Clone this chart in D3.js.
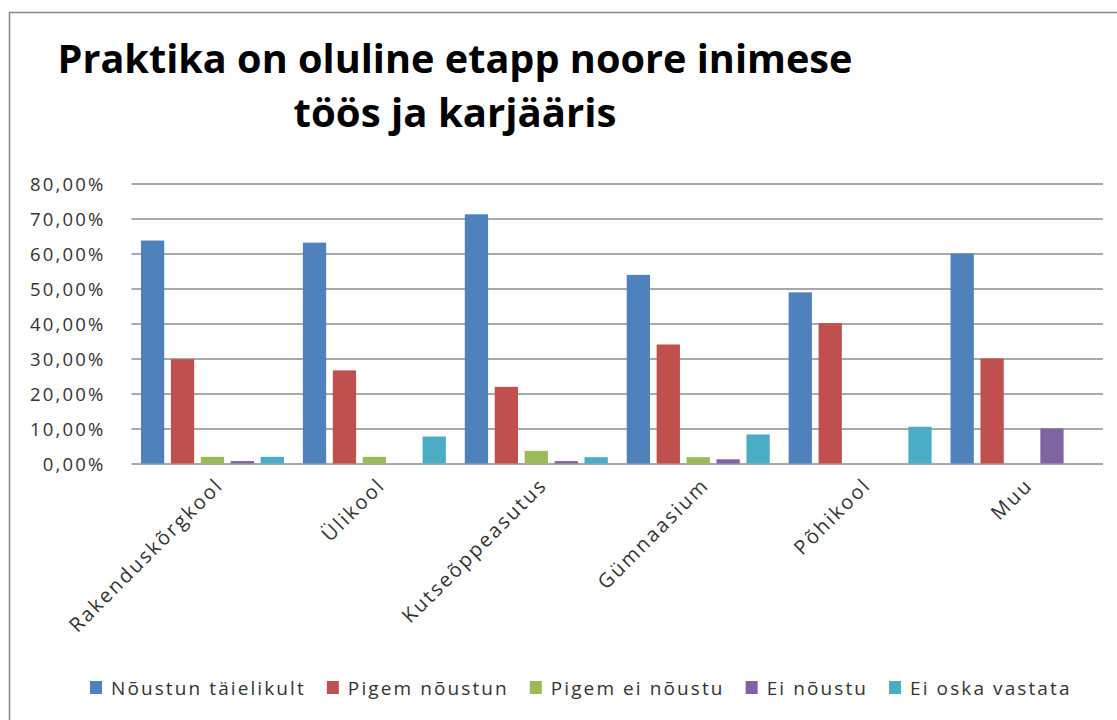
<!DOCTYPE html>
<html>
<head>
<meta charset="utf-8">
<script src="https://cdn.jsdelivr.net/npm/d3@7"></script>
<style>
  html, body { margin: 0; padding: 0; background: #fff; }
  svg text { font-family: "Open Sans", "Noto Sans", sans-serif; }
</style>
</head>
<body>
<svg id="chart" width="1117" height="720"></svg>
<script>
const titleLines = ["Praktika on oluline etapp noore inimese", "töös ja karjääris"];
const categories = ["Rakenduskõrgkool", "Ülikool", "Kutseõppeasutus", "Gümnaasium", "Põhikool", "Muu"];
const seriesNames = ["Nõustun täielikult", "Pigem nõustun", "Pigem ei nõustu", "Ei nõustu", "Ei oska vastata"];
const seriesColors = ["#4F81BD", "#C0504D", "#9BBB59", "#8064A2", "#4BACC6"];
const nToielikult = [63.7, 63.1, 71.2, 53.9, 48.9, 60.0];
const pigemNoustun = [29.8, 26.6, 21.9, 34.0, 40.1, 30.0];
const pigemEiNoustu = [1.9, 1.9, 3.6, 1.8, 0, 0];
const eiNoustu = [0.7, 0, 0.7, 1.2, 0, 10.0];
const eiOskaVastata = [1.9, 7.7, 1.8, 8.3, 10.5, 0];
const seriesValues = [nToielikult, pigemNoustun, pigemEiNoustu, eiNoustu, eiOskaVastata];
const yTicks = [0, 10, 20, 30, 40, 50, 60, 70, 80];

const svg = d3.select("#chart");
const W = 1117, H = 720;
const plot = { left: 131.5, right: 1103, top: 183.5, bottom: 463.5 };

// frame
svg.append("path")
  .attr("d", `M9.5,${H + 2} L9.5,12.5 L${W + 2},12.5`)
  .attr("fill", "none").attr("stroke", "#858585").attr("stroke-width", 1.5);

// title
svg.append("g").selectAll("text").data(titleLines).enter().append("text")
  .attr("x", 455)
  .attr("y", (d, i) => 73 + i * 54)
  .attr("text-anchor", "middle")
  .attr("font-size", 39)
  .attr("font-weight", "bold")
  .attr("fill", "#000")
  .attr("textLength", (d, i) => i === 0 ? 795 : 323)
  .attr("lengthAdjust", "spacingAndGlyphs")
  .text(d => d);

const x0 = d3.scaleBand().domain(categories).range([plot.left, plot.right]).paddingInner(0).paddingOuter(0);
const x1 = d3.scaleBand().domain(seriesNames).range([0, x0.bandwidth()]).paddingInner(0.222).paddingOuter(0.316);
const y = d3.scaleLinear().domain([0, 80]).range([plot.bottom, plot.top]);

// gridlines + y labels
const yAxis = d3.axisLeft(y).tickValues(yTicks).tickSize(-(plot.right - plot.left)).tickPadding(26)
  .tickFormat(d => d3.format(".2f")(d).replace(".", ",") + "%");
const gy = svg.append("g").attr("transform", `translate(${plot.left},0)`).call(yAxis);
gy.select(".domain").remove();
gy.selectAll(".tick line").attr("stroke", "#8c8c8c").attr("stroke-width", 1.4);
gy.selectAll(".tick text")
  .attr("font-size", 18.5).attr("fill", "#333")
  .attr("letter-spacing", "2.2px")
  .attr("dy", "0.36em");

// bars
const groups = svg.append("g").selectAll("g").data(categories).enter().append("g")
  .attr("transform", d => `translate(${x0(d)},0)`);
groups.selectAll("rect")
  .data((c, ci) => seriesNames.map((s, si) => ({ s, si, v: seriesValues[si][ci] })))
  .enter().append("rect")
  .attr("x", d => x1(d.s))
  .attr("width", x1.bandwidth())
  .attr("y", d => y(d.v))
  .attr("height", d => y(0) - y(d.v))
  .attr("fill", d => seriesColors[d.si]);

// x axis labels
const gx = svg.append("g").attr("transform", `translate(0,${plot.bottom})`)
  .call(d3.axisBottom(x0).tickSize(0).tickPadding(0));
gx.select(".domain").remove();
gx.selectAll(".tick text")
  .attr("font-size", 20).attr("fill", "#333")
  .attr("letter-spacing", "2.2px")
  .attr("text-anchor", "end")
  .attr("transform", "translate(7,18) rotate(-45)")
  .attr("dy", "0.35em")
  .attr("y", 0);

// legend
const legend = svg.append("g").attr("transform", "translate(90,688)");
let lx = 0;
seriesNames.forEach((name, i) => {
  const g = legend.append("g").attr("transform", `translate(${lx},0)`);
  g.append("rect").attr("x", 0).attr("y", -7).attr("width", 12).attr("height", 13).attr("fill", seriesColors[i]);
  const t = g.append("text").attr("x", 21).attr("y", 0).attr("dy", "0.35em")
    .attr("font-size", 19).attr("fill", "#333").attr("letter-spacing", "2.1px").text(name);
  const w = t.node().getComputedTextLength();
  lx += 21 + w + 21;
});
</script>
</body>
</html>
